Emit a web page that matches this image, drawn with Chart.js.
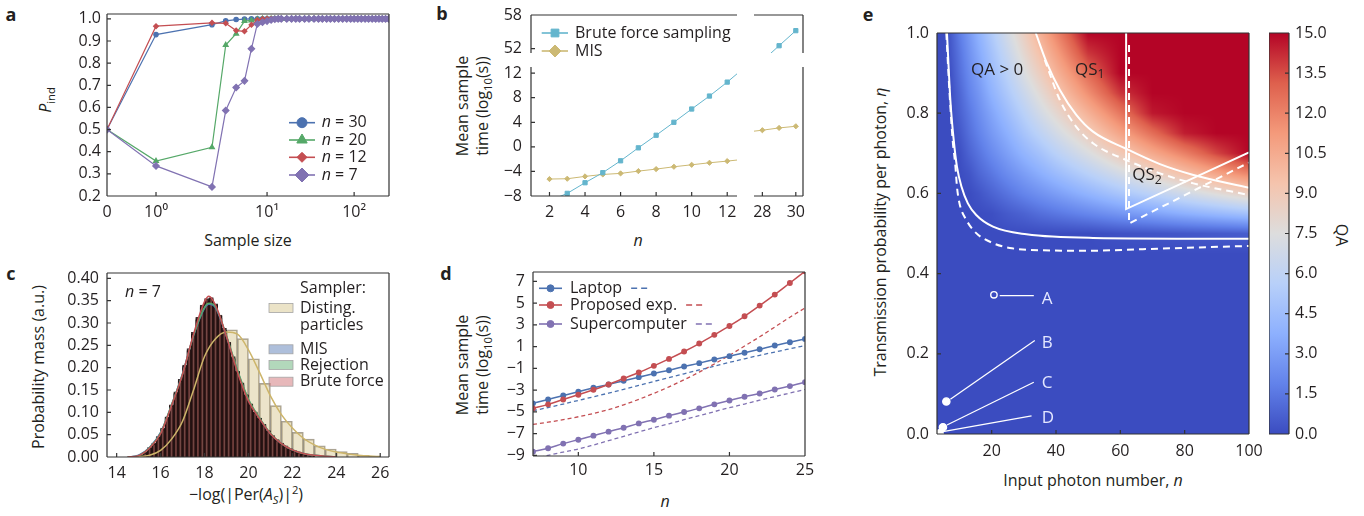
<!DOCTYPE html>
<html>
<head>
<meta charset="utf-8">
<title>Boson sampling panels</title>
<script src="https://cdn.jsdelivr.net/npm/chart.js@4.4.1/dist/chart.umd.min.js"></script>
<style>
  body { margin: 0; width: 1364px; height: 516px; position: relative; overflow: hidden; background: #fff;
         font-family: "Open Sans", "DejaVu Sans", sans-serif; color: #231f20; }
  canvas { position: absolute; }
  .lab { position: absolute; white-space: nowrap; font-size: 16px; line-height: 1; transform: translate(-50%, -50%); }
  .up { transform: translate(-50%, -50%) rotate(-90deg); }
  .down { transform: translate(-50%, -50%) rotate(90deg); }
  .two { text-align: center; line-height: 20px; }
  .pl { position: absolute; font-weight: bold; font-size: 18px; line-height: 1; transform: translate(-50%, -50%); }
  sub, sup { font-size: 70%; line-height: 0; }
</style>
</head>
<body>

<div class="pl" style="left:11px;top:14px">a</div>
<div class="pl" style="left:442px;top:13px">b</div>
<div class="pl" style="left:11px;top:273px">c</div>
<div class="pl" style="left:446px;top:273px">d</div>
<div class="pl" style="left:868px;top:14px">e</div>

<div class="lab up" style="left:45px;top:100px"><i>P</i><sub>ind</sub></div>
<div class="lab" style="left:248px;top:240px">Sample size</div>
<div class="lab up two" style="left:472px;top:106px">Mean sample<br>time (log<sub>10</sub>(s))</div>
<div class="lab" style="left:638px;top:240px"><i>n</i></div>
<div class="lab up" style="left:38px;top:367px">Probability mass (a.u.)</div>
<div class="lab" style="left:246px;top:494px">−log(|Per(<i>A<sub>S</sub></i>)|<sup>2</sup>)</div>
<div class="lab up two" style="left:472px;top:365px">Mean sample<br>time (log<sub>10</sub>(s))</div>
<div class="lab" style="left:665px;top:501px"><i>n</i></div>
<div class="lab up" style="left:880px;top:232px">Transmission probability per photon, <i>η</i></div>
<div class="lab" style="left:1093px;top:480px">Input photon number, <i>n</i></div>
<div class="lab down" style="left:1342px;top:235px">QA</div>

<script>
// ---------- panel a : P_ind vs sample size ----------
const sizesA = [0, 1, 3, 4, 5, 6, 7, 8, 9, 10,
  11, 12, 13, 14, 16, 18, 20, 22, 25, 28,
  32, 36, 40, 45, 50, 56, 63, 71, 80, 90,
  100, 112, 125, 141, 158, 178, 200, 224, 251, 282,
  316];
const pA30 = [0.5, 0.929, 0.974, 0.991, 0.997, 0.999, 1, 1, 1, 1,
  1, 1, 1, 1, 1, 1, 1, 1, 1, 1,
  1, 1, 1, 1, 1, 1, 1, 1, 1, 1,
  1, 1, 1, 1, 1, 1, 1, 1, 1, 1,
  1];
const pA20 = [0.5, 0.358, 0.42, 0.882, 0.933, 0.99, 0.993, 0.998, 1, 1,
  1, 1, 1, 1, 1, 1, 1, 1, 1, 1,
  1, 1, 1, 1, 1, 1, 1, 1, 1, 1,
  1, 1, 1, 1, 1, 1, 1, 1, 1, 1,
  1];
const pA12 = [0.5, 0.967, 0.982, 0.98, 0.947, 0.944, 0.973, 0.995, 0.999, 1,
  1, 1, 1, 1, 1, 1, 1, 1, 1, 1,
  1, 1, 1, 1, 1, 1, 1, 1, 1, 1,
  1, 1, 1, 1, 1, 1, 1, 1, 1, 1,
  1];
const pA7 = [0.5, 0.336, 0.241, 0.586, 0.69, 0.72, 0.865, 0.977, 0.985, 0.99,
  0.995, 0.998, 1, 1, 1, 1, 1, 1, 1, 1,
  1, 1, 1, 1, 1, 1, 1, 1, 1, 1,
  1, 1, 1, 1, 1, 1, 1, 1, 1, 1,
  1];
const ticksAX = [0, 1, 10, 100];
const ticksAXLabels = ["0", "10⁰", "10¹", "10²"];
const ticksAY = [0.2, 0.3, 0.4, 0.5, 0.6, 0.7, 0.8, 0.9, 1.0];

// ---------- panel b : brute force vs MIS ----------
const nB = [2, 3, 4, 5, 6, 7, 8, 9, 10, 11, 12, 28, 29, 30];
const bruteB = [-8.8, -7.57, -5.84, -4.2, -2.27, -0.16, 1.89, 4.0, 6.16, 8.27, 10.54, 49.8, 52.5, 55.2];
const misB = [-5.24, -5.19, -4.81, -4.49, -4.32, -3.95, -3.62, -3.24, -2.92, -2.59, -2.32, 2.71, 3.08, 3.35];
const ticksBYLow = [-8, -4, 0, 4, 8, 12];
const ticksBYHigh = [52, 58];
const ticksBXLeft = [2, 4, 6, 8, 10, 12];
const ticksBXRight = [28, 30];

// ---------- panel c : histograms, n = 7 ----------
const binsQ = [15.1, 15.3, 15.5, 15.7, 15.9, 16.1, 16.3, 16.5, 16.7, 16.9,
  17.1, 17.3, 17.5, 17.7, 17.9, 18.1, 18.3, 18.5, 18.7, 18.9,
  19.1, 19.3, 19.5, 19.7, 19.9, 20.1, 20.3, 20.5, 20.7, 20.9,
  21.1, 21.3, 21.5, 21.7, 21.9, 22.1, 22.3, 22.5, 22.7, 22.9];
const bruteQ = [0.005, 0.01, 0.02, 0.03, 0.044, 0.063, 0.088, 0.115, 0.143, 0.171,
  0.203, 0.24, 0.275, 0.31, 0.337, 0.355, 0.357, 0.34, 0.315, 0.285,
  0.254, 0.222, 0.19, 0.164, 0.138, 0.117, 0.1, 0.086, 0.072, 0.058,
  0.047, 0.038, 0.03, 0.024, 0.018, 0.014, 0.011, 0.008, 0.006, 0.004];
const misQ = [0.004, 0.011, 0.019, 0.031, 0.046, 0.061, 0.09, 0.113, 0.146, 0.168,
  0.206, 0.237, 0.279, 0.306, 0.34, 0.35, 0.352, 0.343, 0.311, 0.288,
  0.25, 0.225, 0.187, 0.166, 0.135, 0.119, 0.098, 0.087, 0.07, 0.059,
  0.046, 0.039, 0.029, 0.025, 0.017, 0.014, 0.01, 0.008, 0.005, 0.004];
const rejQ = [0.005, 0.009, 0.021, 0.029, 0.045, 0.065, 0.086, 0.117, 0.141, 0.174,
  0.2, 0.243, 0.272, 0.313, 0.334, 0.348, 0.355, 0.337, 0.318, 0.282,
  0.257, 0.219, 0.192, 0.161, 0.14, 0.115, 0.101, 0.084, 0.073, 0.057,
  0.048, 0.037, 0.031, 0.023, 0.019, 0.013, 0.011, 0.007, 0.006, 0.003];
const binsD = [15.25, 15.75, 16.25, 16.75, 17.25, 17.75, 18.25, 18.75, 19.25, 19.75, 20.25,
  20.75, 21.25, 21.75, 22.25, 22.75, 23.25, 23.75, 24.25, 24.75, 25.25, 25.75];
const distQ = [0.002, 0.008, 0.025, 0.06, 0.115, 0.19, 0.25, 0.275, 0.285, 0.265, 0.22,
  0.165, 0.115, 0.08, 0.055, 0.04, 0.025, 0.018, 0.012, 0.008, 0.004, 0.002];
const kdeX = [14.5, 15, 15.5, 16, 16.5, 17, 17.5, 18, 18.2, 18.5, 19, 19.5, 20, 20.5, 21, 21.5, 22, 22.5, 23, 24];
const bruteK = [0, 0.003, 0.02, 0.052, 0.115, 0.185, 0.275, 0.348, 0.36, 0.34, 0.27, 0.19, 0.125, 0.086, 0.052, 0.03, 0.016, 0.008, 0.004, 0];
const rejK = [0, 0.003, 0.021, 0.054, 0.117, 0.186, 0.272, 0.335, 0.344, 0.336, 0.272, 0.195, 0.13, 0.088, 0.053, 0.03, 0.016, 0.008, 0.004, 0];
const misK = [0, 0.004, 0.022, 0.055, 0.117, 0.187, 0.272, 0.333, 0.342, 0.334, 0.27, 0.193, 0.128, 0.087, 0.052, 0.03, 0.016, 0.008, 0.004, 0];
const distX = [14.5, 15, 15.5, 16, 16.5, 17, 17.5, 18, 18.5, 19, 19.5, 20, 20.5, 21, 21.5, 22, 22.5, 23, 23.5, 24, 24.5, 25, 25.5, 26];
const distK = [0, 0.001, 0.004, 0.015, 0.04, 0.08, 0.15, 0.225, 0.265, 0.28, 0.275, 0.24, 0.19, 0.137, 0.095, 0.065, 0.042, 0.027, 0.017, 0.011, 0.007, 0.004, 0.002, 0.001];
const ticksCX = [14, 16, 18, 20, 22, 24, 26];
const ticksCY = [0, 0.05, 0.1, 0.15, 0.2, 0.25, 0.3, 0.35, 0.4];

// ---------- panel d : sample time vs n ----------
const nD = [7, 8, 9, 10, 11, 12, 13, 14, 15, 16, 17, 18, 19, 20, 21, 22, 23, 24, 25];
const laptopD = [-4.22, -3.86, -3.49, -3.15, -2.79, -2.48, -2.14, -1.81, -1.47, -1.17, -0.83, -0.52, -0.19, 0.12, 0.43, 0.76, 1.1, 1.4, 1.71];
const expD = [-4.68, -4.31, -3.86, -3.43, -2.97, -2.48, -1.93, -1.38, -0.77, -0.13, 0.55, 1.28, 2.08, 2.9, 3.79, 4.77, 5.78, 6.85, 7.92];
const superD = [-8.66, -8.35, -7.92, -7.56, -7.19, -6.82, -6.46, -6.06, -5.72, -5.35, -5.02, -4.68, -4.31, -3.95, -3.61, -3.31, -2.94, -2.63, -2.27];
const laptopFitD = [-4.9, -4.6, -4.28, -3.95, -3.62, -3.28, -2.93, -2.57, -2.2, -1.85, -1.5, -1.15, -0.8, -0.45, -0.12, 0.2, 0.5, 0.8, 1.1];
const expFitD = [-6.15, -5.95, -5.72, -5.45, -5.15, -4.8, -4.35, -3.85, -3.3, -2.7, -2.05, -1.35, -0.6, 0.2, 1.05, 1.9, 2.8, 3.7, 4.55];
const superFitD = [-9.35, -9.0, -8.7, -8.42, -8.05, -7.65, -7.25, -6.85, -6.46, -6.1, -5.72, -5.35, -4.98, -4.62, -4.28, -3.93, -3.6, -3.27, -2.94];
const ticksDX = [10, 15, 20, 25];
const ticksDY = [-9, -7, -5, -3, -1, 1, 3, 5, 7];

// ---------- panel e : quantum advantage map ----------
const qaN = [3, 5, 7, 10, 13, 16, 20, 25, 30, 35, 40, 50, 60, 70, 80, 90, 100];
const qaEta = [0, 0.45, 0.5, 0.55, 0.6, 0.65, 0.7, 0.75, 0.8, 0.85, 0.9, 0.95, 1.0];
const qaGrid = [
  [0, 0, 0, 0, 0, 0, 0, 0, 0, 0, 0, 0, 0, 0, 0, 0, 0],
  [0, 0, 0, 0, 0, 0, 0, 0, 0, 0, 0, 0, 0, 0, 0, 0, 0],
  [0, 0, 0, 0, 0, 0, 0, 0, 0, 0, 0, 0, 0.2, 0.3, 0.4, 0.5, 0.6],
  [0, 0, 0, 0, 0, 0, 0.1, 0.5, 0.8, 1.2, 1.5, 2.1, 2.7, 3.2, 3.8, 4.3, 4.8],
  [0, 0, 0, 0, 0, 0.3, 0.8, 1.4, 2.0, 2.5, 3.0, 4.0, 5.0, 5.9, 6.8, 7.7, 8.6],
  [0, 0, 0, 0, 0.3, 0.9, 1.5, 2.3, 3.0, 3.7, 4.4, 5.7, 7.0, 8.3, 9.6, 10.8, 12.0],
  [0, 0, 0, 0.1, 0.8, 1.4, 2.2, 3.1, 4.0, 4.8, 5.7, 7.3, 9.0, 10.6, 12.1, 13.7, 15],
  [0, 0, 0, 0.4, 1.2, 1.9, 2.8, 3.8, 4.9, 5.9, 6.9, 8.8, 10.8, 12.7, 14.5, 15, 15],
  [0, 0, 0, 0.7, 1.5, 2.3, 3.3, 4.5, 5.7, 6.9, 8.0, 10.2, 12.4, 14.6, 15, 15, 15],
  [0, 0, 0, 0.9, 1.9, 2.7, 3.9, 5.2, 6.5, 7.8, 9.1, 11.6, 14.0, 15, 15, 15, 15],
  [0, 0, 0.1, 1.2, 2.2, 3.1, 4.4, 5.8, 7.3, 8.7, 10.1, 12.8, 15, 15, 15, 15, 15],
  [0, 0, 0.3, 1.4, 2.5, 3.5, 4.8, 6.4, 8.0, 9.5, 11.0, 14.0, 15, 15, 15, 15, 15],
  [0, 0, 0.4, 1.7, 2.8, 3.9, 5.3, 7.0, 8.6, 10.3, 11.9, 15, 15, 15, 15, 15, 15],
];
const boundN = [6.1, 7.15, 8.2, 9.2, 10.6, 12.6, 15.2, 20.4, 30.8, 51.5, 100];
const boundEta = [1.0, 0.833, 0.733, 0.667, 0.617, 0.575, 0.546, 0.517, 0.498, 0.489, 0.487];
const bound2N = [5.9, 6.9, 7.9, 8.7, 9.2, 10.0, 12.1, 15.2, 20.4, 25.6, 36, 50, 67, 100];
const bound2Eta = [1.0, 0.85, 0.73, 0.67, 0.617, 0.575, 0.534, 0.501, 0.476, 0.464, 0.458, 0.457, 0.461, 0.469];
const qs1N = [33.7, 37.0, 41.2, 46.3, 51.5, 61.6, 72.3, 82.7, 100];
const qs1Eta = [1.0, 0.928, 0.858, 0.796, 0.754, 0.712, 0.673, 0.646, 0.614];
const qs1bN = [36.5, 41.2, 46.3, 51.5, 61.9, 72.3, 82.7, 100];
const qs1bEta = [0.933, 0.833, 0.766, 0.725, 0.683, 0.65, 0.625, 0.596];
const qs2N = [61.8, 61.8, 100];
const qs2Eta = [1.0, 0.561, 0.7025];
const qs2bN = [62.7, 62.7, 100];
const qs2bEta = [0.97, 0.525, 0.677];
const dotN = [20.7, 5.9, 4.85, 3.8];
const dotEta = [0.347, 0.081, 0.017, 0.002];
const leadN = [[22.5, 33.1], [7.15, 33.4], [6.1, 33.1], [4.85, 32.4]];
const leadEta = [[0.345, 0.345], [0.0865, 0.233], [0.0224, 0.129], [0.0057, 0.045]];
const ticksEX = [20, 40, 60, 80, 100];
const ticksEY = [0, 0.2, 0.4, 0.6, 0.8, 1.0];
const ticksCB = [0, 1.5, 3, 4.5, 6, 7.5, 9, 10.5, 12, 13.5, 15];

// ---------- styling ----------
const ink = "#231f20";
const blue = "#4c72b0", green = "#55a868", red = "#c44e52", purple = "#8172b2";
const cyan = "#64b5cd", tan = "#ccb974", white = "#ffffff";
const coolStops = [[59, 76, 192], [98, 130, 234], [141, 176, 254], [184, 208, 249], [221, 221, 221],
  [245, 196, 173], [244, 154, 123], [222, 96, 77], [180, 4, 38]];
const FONT = '"Open Sans", "DejaVu Sans", sans-serif';

Chart.defaults.font.family = FONT;
Chart.defaults.font.size = 16;
Chart.defaults.color = ink;

const pts = (xs, ys) => xs.map((x, i) => ({ x: x, y: ys[i] }));
const minus = (v) => String(v).replace("-", "\u2212");
const fixed = (vals) => (s) => { s.ticks = vals.map((v) => ({ value: v })); };

function coolwarm(t) {
  t = Math.max(0, Math.min(1, t));
  const p = t * 8, i = Math.min(7, Math.floor(p)), f = p - i;
  const a = coolStops[i], b = coolStops[i + 1];
  return [a[0] + (b[0] - a[0]) * f, a[1] + (b[1] - a[1]) * f, a[2] + (b[2] - a[2]) * f];
}

function locate(arr, v) {
  let i = 0;
  while (i < arr.length - 2 && v > arr[i + 1]) i++;
  const f = Math.max(0, Math.min(1, (v - arr[i]) / (arr[i + 1] - arr[i])));
  return [i, f];
}

// sample-size axis of panel a: linear up to 1, log-like after
function warp(s) {
  if (s <= 1) return s;
  const L = Math.log10(s);
  return 1 + 2.51 * L - 0.2445 * L * L;
}
class WarpScale extends Chart.LinearScale {
  getPixelForValue(value) {
    const lo = warp(this.min), hi = warp(this.max);
    return this.getPixelForDecimal((warp(value) - lo) / (hi - lo));
  }
  getValueForPixel(pixel) {
    return this.min + this.getDecimalForPixel(pixel) * (this.max - this.min);
  }
}
WarpScale.id = "warp";
WarpScale.defaults = {};
Chart.register(WarpScale);

function drawRuns(ctx, runs, x, y, size, color, align) {
  const fontOf = (st) => (st.includes("i") ? "italic " : "") + (st.includes("s") ? size * 0.72 : size) + "px " + FONT;
  let w = 0;
  for (const [t, st] of runs) { ctx.font = fontOf(st); w += ctx.measureText(t).width; }
  let cx = align === "center" ? x - w / 2 : x;
  ctx.fillStyle = color;
  ctx.textBaseline = "middle";
  ctx.textAlign = "left";
  for (const [t, st] of runs) {
    ctx.font = fontOf(st);
    ctx.fillText(t, cx, y + (st.includes("s") ? size * 0.3 : 0));
    cx += ctx.measureText(t).width;
  }
  return cx;
}

function frame(sides, tickAxes) {
  return {
    id: "frame",
    afterDraw(chart) {
      const { ctx, chartArea: a } = chart;
      ctx.save();
      ctx.strokeStyle = "#333";
      ctx.lineWidth = 1.2;
      ctx.setLineDash([]);
      ctx.beginPath();
      if (sides.includes("t")) { ctx.moveTo(a.left, a.top); ctx.lineTo(a.right, a.top); }
      if (sides.includes("b")) { ctx.moveTo(a.left, a.bottom); ctx.lineTo(a.right, a.bottom); }
      if (sides.includes("l")) { ctx.moveTo(a.left, a.top); ctx.lineTo(a.left, a.bottom); }
      if (sides.includes("r")) { ctx.moveTo(a.right, a.top); ctx.lineTo(a.right, a.bottom); }
      for (const [id, side] of tickAxes) {
        const sc = chart.scales[id];
        for (const t of sc.ticks) {
          const p = sc.getPixelForValue(t.value);
          if (side === "b") { ctx.moveTo(p, a.bottom); ctx.lineTo(p, a.bottom - 4); }
          if (side === "l") { ctx.moveTo(a.left, p); ctx.lineTo(a.left + 4, p); }
          if (side === "r") { ctx.moveTo(a.right, p); ctx.lineTo(a.right - 4, p); }
        }
      }
      ctx.stroke();
      ctx.restore();
    },
  };
}

function keys(items) {
  return {
    id: "keys",
    afterDraw(chart) {
      const { ctx, chartArea: a } = chart;
      ctx.save();
      for (const it of items) {
        const y = a.top + it.y;
        if (it.line) {
          ctx.setLineDash([]);
          ctx.strokeStyle = it.color;
          ctx.lineWidth = 1.6;
          ctx.beginPath();
          ctx.moveTo(a.left + it.line[0], y);
          ctx.lineTo(a.left + it.line[1], y);
          ctx.stroke();
        }
        if (it.marker) {
          ctx.fillStyle = it.color;
          ctx.strokeStyle = it.color;
          ctx.lineWidth = 1;
          Chart.helpers.drawPoint(ctx, { pointStyle: it.marker, radius: it.r, rotation: 0, borderWidth: 1 }, a.left + it.mx, y);
        }
        if (it.box) {
          ctx.fillStyle = it.box;
          ctx.fillRect(a.left + it.bx, y - 4.5, 24, 9);
          ctx.strokeStyle = "#a5a5a5";
          ctx.lineWidth = 0.8;
          ctx.strokeRect(a.left + it.bx, y - 4.5, 24, 9);
        }
        const end = drawRuns(ctx, it.runs, a.left + it.x, y, 16, ink, "left");
        if (it.after) {
          ctx.strokeStyle = it.color;
          ctx.lineWidth = 1.5;
          ctx.setLineDash([6, 4]);
          ctx.beginPath();
          ctx.moveTo(end + 9, y);
          ctx.lineTo(end + 29, y);
          ctx.stroke();
          ctx.setLineDash([]);
        }
      }
      ctx.restore();
    },
  };
}

function notes(items) {
  return {
    id: "notes",
    afterDatasetsDraw(chart) {
      const { ctx, scales } = chart;
      ctx.save();
      for (const it of items) {
        drawRuns(ctx, it.runs, scales.x.getPixelForValue(it.x), scales.y.getPixelForValue(it.y), 17, it.ink, it.align);
      }
      ctx.restore();
    },
  };
}

const heat = {
  id: "heat",
  beforeDatasetsDraw(chart) {
    const { ctx, chartArea: a, scales } = chart;
    const x0 = Math.round(a.left), y0 = Math.round(a.top);
    const w = Math.round(a.right) - x0, h = Math.round(a.bottom) - y0;
    const img = ctx.createImageData(w, h);
    for (let j = 0; j < h; j++) {
      const [r, fr] = locate(qaEta, scales.y.getValueForPixel(y0 + j + 0.5));
      for (let i = 0; i < w; i++) {
        const [c, fc] = locate(qaN, scales.x.getValueForPixel(x0 + i + 0.5));
        const lo = qaGrid[r][c] * (1 - fc) + qaGrid[r][c + 1] * fc;
        const hi = qaGrid[r + 1][c] * (1 - fc) + qaGrid[r + 1][c + 1] * fc;
        const col = coolwarm((lo * (1 - fr) + hi * fr) / 15);
        const k = (j * w + i) * 4;
        img.data[k] = col[0];
        img.data[k + 1] = col[1];
        img.data[k + 2] = col[2];
        img.data[k + 3] = 255;
      }
    }
    ctx.putImageData(img, x0, y0);
  },
};

const cbar = {
  id: "cbar",
  beforeDatasetsDraw(chart) {
    const { ctx, chartArea: a } = chart;
    const g = ctx.createLinearGradient(0, a.bottom, 0, a.top);
    coolStops.forEach((c, i) => g.addColorStop(i / (coolStops.length - 1), "rgb(" + c.join(",") + ")"));
    ctx.fillStyle = g;
    ctx.fillRect(a.left, a.top, a.right - a.left, a.bottom - a.top);
  },
};

function axis(pos, min, max, size, tickOpts, more) {
  const horiz = pos === "bottom" || pos === "top";
  return Object.assign({
    type: "linear",
    position: pos,
    min: min,
    max: max,
    grid: { display: false, drawTicks: false },
    border: { display: false },
    ticks: Object.assign({ padding: horiz ? 7 : 6, autoSkip: false, maxRotation: 0, color: ink, font: { size: 16 } }, tickOpts || {}),
    afterFit: (s) => {
      if (horiz) s.height = size; else s.width = size;
      // keep the plot box where it was planned; labels may hang into the margins
      s.paddingTop = 0; s.paddingBottom = 0; s.paddingLeft = 0; s.paddingRight = 0;
    },
  }, more || {});
}

// box = [plotLeft, plotTop, plotWidth, plotHeight]; pad = [left, top, right, bottom] room around it
function make(box, pad, config) {
  const [L, T, R, B] = pad;
  const cv = document.createElement("canvas");
  cv.width = box[2] + L + R;
  cv.height = box[3] + T + B;
  cv.style.left = (box[0] - L) + "px";
  cv.style.top = (box[1] - T) + "px";
  document.body.appendChild(cv);
  config.options = Object.assign({
    responsive: false,
    animation: false,
    devicePixelRatio: 1,
    events: [],
    layout: { padding: { left: 0, top: T, right: R, bottom: 0 } },
  }, config.options);
  config.options.plugins = Object.assign({ legend: { display: false }, tooltip: { enabled: false } }, config.options.plugins);
  return new Chart(cv, config);
}

// ---------- panel a ----------
make([107, 14, 282, 182], [60, 10, 10, 45], {
  type: "line",
  data: {
    datasets: [
      { data: pts(sizesA, pA7), borderColor: purple, backgroundColor: purple, pointStyle: "rectRot", pointRadius: 3.2, borderWidth: 1.2, order: 0 },
      { data: pts(sizesA, pA12), borderColor: red, backgroundColor: red, pointStyle: "rectRot", pointRadius: 2.4, borderWidth: 1.2, order: 1 },
      { data: pts(sizesA, pA20), borderColor: green, backgroundColor: green, pointStyle: "triangle", pointRadius: 2.8, borderWidth: 1.2, order: 2 },
      { data: pts(sizesA, pA30), borderColor: blue, backgroundColor: blue, pointStyle: "circle", pointRadius: 2.2, borderWidth: 1.2, order: 3 },
    ],
  },
  options: {
    scales: {
      x: axis("bottom", 0, 320, 45, { callback: (v, i) => ticksAXLabels[i] }, { type: "warp", afterBuildTicks: fixed(ticksAX) }),
      y: axis("left", 0.2, 1.022, 60, { callback: (v) => v.toFixed(1) }, { afterBuildTicks: fixed(ticksAY) }),
    },
  },
  plugins: [
    frame("tlbr", [["x", "b"], ["y", "l"]]),
    keys([
      { y: 108.7, line: [182, 208], color: blue, marker: "circle", r: 5, mx: 195, x: 214.7, runs: [["n", "i"], [" = 30", ""]] },
      { y: 126, line: [182, 208], color: green, marker: "triangle", r: 6, mx: 195, x: 214.7, runs: [["n", "i"], [" = 20", ""]] },
      { y: 143.3, line: [182, 208], color: red, marker: "rectRot", r: 5, mx: 195, x: 214.7, runs: [["n", "i"], [" = 12", ""]] },
      { y: 161, line: [182, 208], color: purple, marker: "rectRot", r: 7, mx: 195, x: 214.7, runs: [["n", "i"], [" = 7", ""]] },
    ]),
  ],
});

// ---------- panel b (four pieces of a broken axis) ----------
function bSets() {
  return [
    { data: pts(nB, bruteB), borderColor: cyan, backgroundColor: cyan, pointStyle: "rect", pointRadius: 3, borderWidth: 1 },
    { data: pts(nB, misB), borderColor: tan, backgroundColor: tan, pointStyle: "rectRot", pointRadius: 2.6, borderWidth: 1 },
  ];
}
make([531, 15, 211, 43], [40, 10, 0, 0], {
  type: "line",
  data: { datasets: bSets() },
  options: {
    scales: {
      x: axis("bottom", 0.96, 12.55, 0, {}, { display: false }),
      y: axis("left", 51.2, 58, 40, { padding: 9 }, { afterBuildTicks: fixed(ticksBYHigh) }),
    },
  },
  plugins: [
    frame("tl", [["y", "l"]]),
    keys([
      { y: 18, line: [10.7, 37], color: cyan, marker: "rect", r: 5.5, mx: 24, x: 44, runs: [["Brute force sampling", ""]] },
      { y: 36, line: [10.7, 37], color: tan, marker: "rectRot", r: 6, mx: 24, x: 44, runs: [["MIS", ""]] },
    ]),
  ],
});
make([531, 67, 211, 129], [40, 8, 0, 40], {
  type: "line",
  data: { datasets: bSets() },
  options: {
    scales: {
      x: axis("bottom", 0.96, 12.55, 40, {}, { afterBuildTicks: fixed(ticksBXLeft) }),
      y: axis("left", -8, 13, 40, { padding: 9, callback: minus }, { afterBuildTicks: fixed(ticksBYLow) }),
    },
  },
  plugins: [frame("lb", [["x", "b"], ["y", "l"]])],
});
make([749, 15, 54, 43], [0, 10, 6, 0], {
  type: "line",
  data: { datasets: bSets() },
  options: {
    scales: {
      x: axis("bottom", 27.5, 30.43, 0, {}, { display: false }),
      y: axis("left", 51.2, 58, 0, {}, { display: false }),
    },
  },
  plugins: [frame("tr", [])],
});
make([749, 67, 54, 129], [0, 8, 10, 40], {
  type: "line",
  data: { datasets: bSets() },
  options: {
    scales: {
      x: axis("bottom", 27.5, 30.43, 40, {}, { afterBuildTicks: fixed(ticksBXRight) }),
      y: axis("left", -8, 13, 0, {}, { display: false }),
    },
  },
  plugins: [frame("rb", [["x", "b"]])],
});

// ---------- panel c ----------
const edge = "rgba(36,18,18,0.88)";
make([107, 273, 282, 184], [70, 10, 10, 50], {
  type: "bar",
  data: {
    datasets: [
      { type: "line", data: pts(kdeX, bruteK), borderColor: red, order: 0 },
      { type: "line", data: pts(kdeX, rejK), borderColor: green, order: 1 },
      { type: "line", data: pts(kdeX, misK), borderColor: blue, order: 2 },
      { type: "line", data: pts(distX, distK), borderColor: "#cdb56a", order: 3 },
      { data: pts(binsQ, bruteQ), backgroundColor: "rgba(150,72,70,0.6)", borderColor: edge, borderWidth: 1.6, order: 4 },
      { data: pts(binsQ, rejQ), backgroundColor: "rgba(85,150,104,0.4)", borderColor: edge, borderWidth: 1.6, order: 5 },
      { data: pts(binsQ, misQ), backgroundColor: "rgba(76,104,166,0.4)", borderColor: edge, borderWidth: 1.6, order: 6 },
      { data: pts(binsD, distQ), xAxisID: "x2", backgroundColor: "rgba(204,185,116,0.38)", borderColor: "rgba(110,100,80,0.6)", borderWidth: 1, order: 7 },
    ],
  },
  options: {
    datasets: {
      bar: { grouped: false, barPercentage: 1, categoryPercentage: 1 },
      line: { pointRadius: 0, borderWidth: 1.5, cubicInterpolationMode: "monotone" },
    },
    scales: {
      x: axis("bottom", 13.56, 26.4, 50, {}, { offset: false, afterBuildTicks: fixed(ticksCX) }),
      x2: axis("bottom", 13.56, 26.4, 0, {}, { display: false, offset: false }),
      y: axis("left", 0, 0.412, 70, { padding: 8, callback: (v) => v.toFixed(2) }, { afterBuildTicks: fixed(ticksCY) }),
    },
  },
  plugins: [
    frame("tlbr", [["x", "b"], ["y", "l"]]),
    keys([
      { y: 19, x: 18, runs: [["n", "i"], [" = 7", ""]] },
      { y: 15, x: 193, runs: [["Sampler:", ""]] },
      { y: 35, box: "rgba(204,185,116,0.4)", bx: 162, x: 193, runs: [["Disting.", ""]] },
      { y: 52.7, x: 193, runs: [["particles", ""]] },
      { y: 76.3, box: "rgba(76,114,176,0.45)", bx: 162, x: 193, runs: [["MIS", ""]] },
      { y: 92, box: "rgba(85,168,104,0.45)", bx: 162, x: 193, runs: [["Rejection", ""]] },
      { y: 108.7, box: "rgba(196,78,82,0.4)", bx: 162, x: 193, runs: [["Brute force", ""]] },
    ]),
  ],
});

// ---------- panel d ----------
make([533, 272, 272, 184], [62, 10, 12, 45], {
  type: "line",
  data: {
    datasets: [
      { data: pts(nD, expD), borderColor: red, backgroundColor: red, pointRadius: 2.2, borderWidth: 1.5 },
      { data: pts(nD, laptopD), borderColor: blue, backgroundColor: blue, pointRadius: 2.2, borderWidth: 1.5 },
      { data: pts(nD, superD), borderColor: purple, backgroundColor: purple, pointRadius: 2.2, borderWidth: 1.5 },
      { data: pts(nD, laptopFitD), borderColor: blue, borderDash: [4, 3], pointRadius: 0, borderWidth: 1.3 },
      { data: pts(nD, expFitD), borderColor: red, borderDash: [4, 3], pointRadius: 0, borderWidth: 1.3 },
      { data: pts(nD, superFitD), borderColor: purple, borderDash: [4, 3], pointRadius: 0, borderWidth: 1.3 },
    ],
  },
  options: {
    datasets: { line: { cubicInterpolationMode: "monotone" } },
    scales: {
      x: axis("bottom", 7, 25, 45, { padding: 5 }, { afterBuildTicks: fixed(ticksDX) }),
      y: axis("left", -9.06, 7.86, 62, { padding: 8, callback: minus }, { afterBuildTicks: fixed(ticksDY) }),
    },
  },
  plugins: [
    frame("tlbr", [["x", "b"], ["y", "l"]]),
    keys([
      { y: 16.3, line: [6, 29], color: blue, marker: "circle", r: 3.5, mx: 17.5, x: 37, runs: [["Laptop", ""]], after: true },
      { y: 33, line: [6, 29], color: red, marker: "circle", r: 3.5, mx: 17.5, x: 37, runs: [["Proposed exp.", ""]], after: true },
      { y: 52, line: [6, 29], color: purple, marker: "circle", r: 3.5, mx: 17.5, x: 37, runs: [["Supercomputer", ""]], after: true },
    ]),
  ],
});

// ---------- panel e ----------
const whiteLine = { borderColor: white, borderWidth: 2, pointRadius: 0, cubicInterpolationMode: "monotone" };
make([937, 33, 312, 401], [60, 12, 14, 40], {
  type: "line",
  data: {
    datasets: [
      Object.assign({ data: pts(boundN, boundEta) }, whiteLine),
      Object.assign({ data: pts(bound2N, bound2Eta), borderDash: [7, 5] }, whiteLine),
      Object.assign({ data: pts(qs1N, qs1Eta) }, whiteLine),
      Object.assign({ data: pts(qs1bN, qs1bEta), borderDash: [7, 5] }, whiteLine),
      Object.assign({ data: pts(qs2N, qs2Eta) }, whiteLine, { cubicInterpolationMode: "default", tension: 0 }),
      Object.assign({ data: pts(qs2bN, qs2bEta), borderDash: [7, 5] }, whiteLine, { cubicInterpolationMode: "default", tension: 0 }),
      ...leadN.map((ln, i) => ({ data: pts(ln, leadEta[i]), borderColor: white, borderWidth: 1.3, pointRadius: 0 })),
      {
        data: pts(dotN, dotEta), showLine: false, pointRadius: [3.2, 3.6, 3.6, 3.6], pointBorderColor: white,
        pointBackgroundColor: ["rgba(0,0,0,0)", white, white, white], pointBorderWidth: 1.4,
      },
    ],
  },
  options: {
    scales: {
      x: axis("bottom", 3, 100, 40, { padding: 8 }, { afterBuildTicks: fixed(ticksEX) }),
      y: axis("left", 0, 1, 60, { padding: 8, callback: (v) => v.toFixed(1) }, { afterBuildTicks: fixed(ticksEY) }),
    },
  },
  plugins: [
    heat,
    frame("tlbr", [["x", "b"], ["y", "l"]]),
    notes([
      { x: 21.7, y: 0.908, runs: [["QA > 0", ""]], ink: ink, align: "center" },
      { x: 50.5, y: 0.908, runs: [["QS", ""], ["1", "s"]], ink: ink, align: "center" },
      { x: 68.3, y: 0.646, runs: [["QS", ""], ["2", "s"]], ink: ink, align: "center" },
      { x: 35.6, y: 0.337, runs: [["A", ""]], ink: "#e4e7ff", align: "left" },
      { x: 35.6, y: 0.226, runs: [["B", ""]], ink: "#e4e7ff", align: "left" },
      { x: 35.6, y: 0.126, runs: [["C", ""]], ink: "#e4e7ff", align: "left" },
      { x: 35.6, y: 0.039, runs: [["D", ""]], ink: "#e4e7ff", align: "left" },
    ]),
  ],
});

// colour bar
make([1269, 33, 20, 401], [0, 12, 60, 12], {
  type: "line",
  data: { datasets: [] },
  options: {
    layout: { padding: { left: 0, top: 12, right: 0, bottom: 12 } },
    scales: {
      x: axis("bottom", 0, 1, 0, {}, { display: false }),
      y: axis("right", 0, 15, 60, { padding: 6, callback: (v) => v.toFixed(1) }, { afterBuildTicks: fixed(ticksCB) }),
    },
  },
  plugins: [cbar, frame("tlbr", [["y", "r"]])],
});
</script>
</body>
</html>
